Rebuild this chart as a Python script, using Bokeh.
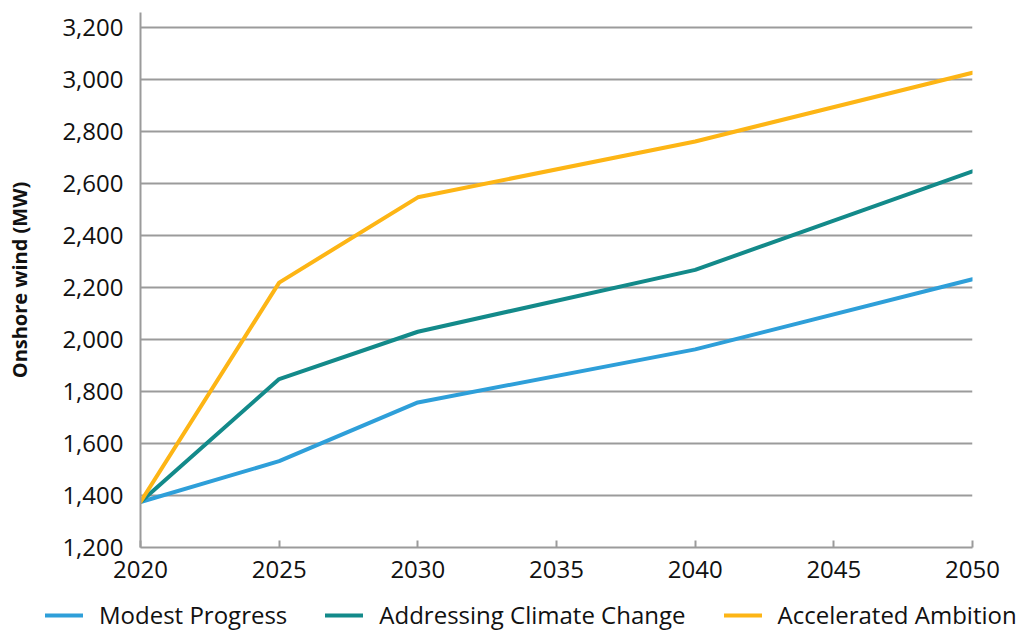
from bokeh.plotting import figure
from bokeh.models import Legend, LegendItem, NumeralTickFormatter, FixedTicker, Range1d
from bokeh.embed import file_html
from bokeh.resources import INLINE

# Onshore wind capacity by scenario (MW)
years = [2020, 2025, 2030, 2040, 2050]
modest_progress = [1375, 1532, 1758, 1962, 2232]
addressing_climate_change = [1375, 1848, 2030, 2268, 2647]
accelerated_ambition = [1375, 2219, 2547, 2762, 3026]

series_names = ["Modest Progress", "Addressing Climate Change", "Accelerated Ambition"]
series_colors = ["#2E9FD9", "#138A8A", "#FDB515"]
series_values = [modest_progress, addressing_climate_change, accelerated_ambition]

x_ticks = [2020, 2025, 2030, 2035, 2040, 2045, 2050]
y_ticks = [1200, 1400, 1600, 1800, 2000, 2200, 2400, 2600, 2800, 3000, 3200]

FONT = "Open Sans"
GRID = "#9B9B9B"
TEXT = "#111111"
LINE_W = 4

# main chart
p = figure(
    width=1019, height=595,
    x_range=Range1d(2020, 2050), y_range=Range1d(1200, 3258),
    output_backend="svg", toolbar_location=None,
    min_border_left=140, min_border_right=47, min_border_top=12, min_border_bottom=48,
)
p.outline_line_color = None

for vals, col in zip(series_values, series_colors):
    p.line(years, vals, line_color=col, line_width=LINE_W, line_cap="round", line_join="round")

p.xgrid.visible = False
p.ygrid.grid_line_color = GRID
p.ygrid.grid_line_width = 2
p.ygrid.ticker = FixedTicker(ticks=y_ticks)

xa = p.xaxis[0]
xa.ticker = FixedTicker(ticks=x_ticks)
xa.axis_line_color = GRID
xa.axis_line_width = 2
xa.major_tick_line_color = GRID
xa.major_tick_line_width = 2
xa.major_tick_in = 7
xa.major_tick_out = 0
xa.minor_tick_line_color = None
xa.major_label_text_font = FONT
xa.major_label_text_font_size = "24px"
xa.major_label_text_color = TEXT
xa.major_label_standoff = 13

ya = p.yaxis[0]
ya.ticker = FixedTicker(ticks=y_ticks)
ya.formatter = NumeralTickFormatter(format="0,0")
ya.axis_line_color = GRID
ya.axis_line_width = 2
ya.major_tick_line_color = None
ya.minor_tick_line_color = None
ya.major_tick_in = 0
ya.major_tick_out = 0
ya.major_label_text_font = FONT
ya.major_label_text_font_size = "24px"
ya.major_label_text_color = TEXT
ya.major_label_standoff = 17
ya.axis_label = "Onshore wind (MW)"
ya.axis_label_text_font = FONT
ya.axis_label_text_font_style = "bold"
ya.axis_label_text_font_size = "20px"
ya.axis_label_text_color = TEXT
ya.axis_label_standoff = 26

# legend strip under the chart
leg_fig = figure(
    width=1019, height=37,
    x_range=Range1d(0, 1), y_range=Range1d(0, 1),
    x_axis_location=None, y_axis_location=None,
    output_backend="svg", toolbar_location=None,
    min_border_left=0, min_border_right=0, min_border_top=0, min_border_bottom=0,
)
leg_fig.outline_line_color = None
leg_fig.xgrid.visible = False
leg_fig.ygrid.visible = False

items = []
for name, vals, col in zip(series_names, series_values, series_colors):
    r = leg_fig.line(years, vals, line_color=col, line_width=LINE_W, line_cap="round")
    items.append(LegendItem(label=name, renderers=[r]))

legend = Legend(
    items=items,
    orientation="horizontal",
    location=(45, 1),
    padding=0, margin=0, spacing=38,
    glyph_width=38, glyph_height=28, label_height=28, label_standoff=16,
    label_text_font=FONT, label_text_font_size="24px", label_text_color=TEXT,
    border_line_color=None, background_fill_alpha=0,
)
leg_fig.add_layout(legend, "center")

open("out.html", "w").write(file_html([p, leg_fig], INLINE))
